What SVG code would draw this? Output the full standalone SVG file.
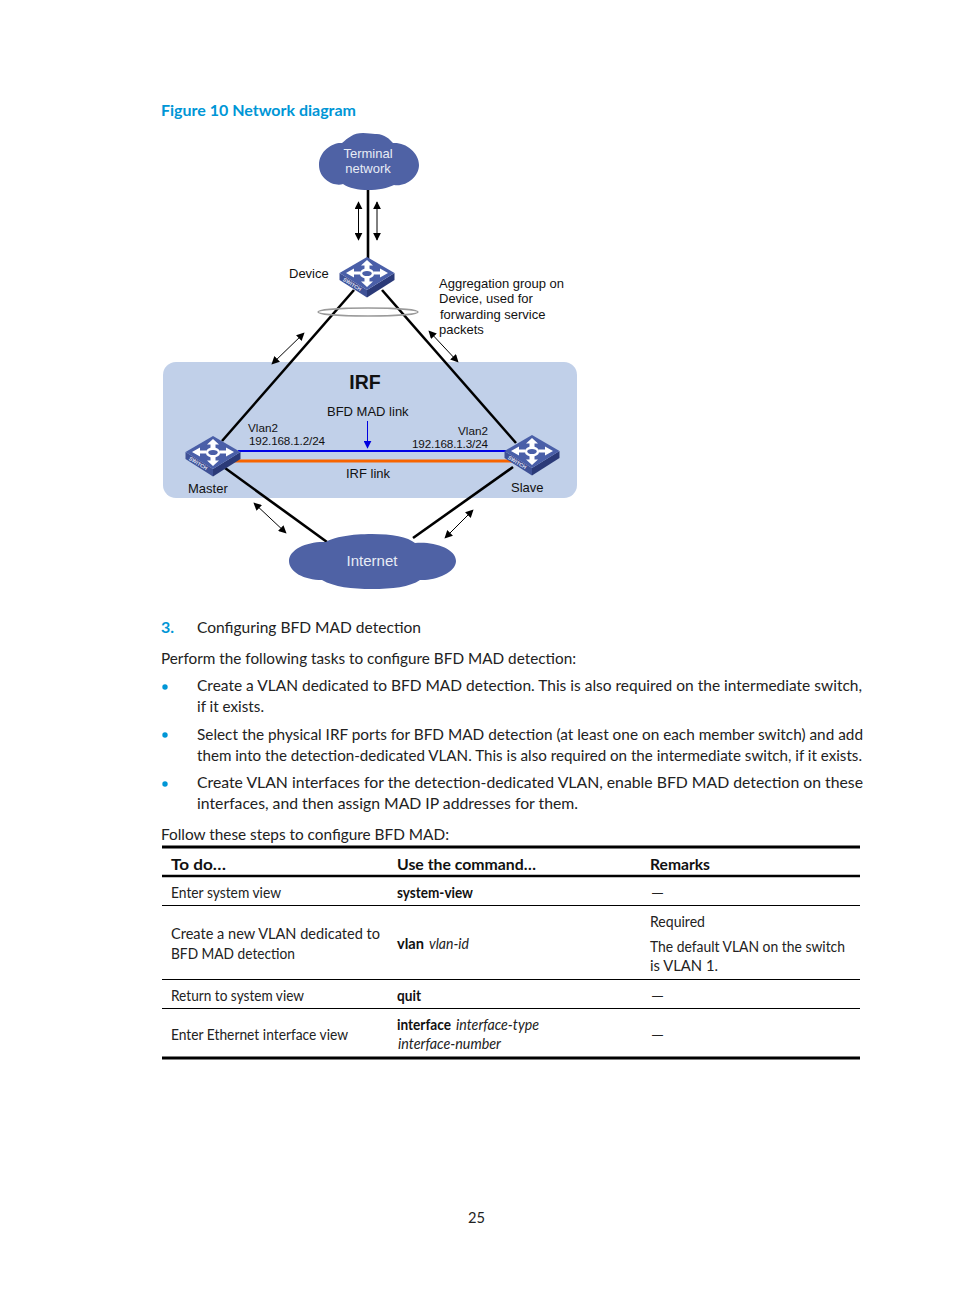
<svg xmlns="http://www.w3.org/2000/svg" width="954" height="1296" viewBox="0 0 954 1296">
<style>
.a{font-family:"Liberation Sans",Arial,sans-serif;font-size:13px;fill:#111}
.s{font-size:11.700px}
.w{font-family:"Liberation Sans",Arial,sans-serif;fill:#e8ecf6;text-anchor:middle}
.b{font-family:Lato,"Open Sans",sans-serif;font-size:16px;fill:#222}
.t{font-family:Lato,"Open Sans",sans-serif;font-size:14.5px;fill:#222}
.h{font-family:Lato,"Open Sans",sans-serif;font-size:16px;font-weight:700;fill:#111}
.m{font-weight:700;fill:#111}
.i{font-style:italic}
.bl{fill:#0096d6}
.cloud{fill:#4f62a5}
.lk{stroke:#000;stroke-width:2.600;fill:none}
.ar{stroke:#000;stroke-width:1;fill:none;marker-start:url(#ah);marker-end:url(#ah)}
.ln{stroke:#000;fill:none}
</style>
<defs>
<marker id="ah" viewBox="0 0 10 10" refX="9" refY="5" markerWidth="8.500" markerHeight="8" markerUnits="userSpaceOnUse" orient="auto-start-reverse"><path d="M0 0L10 5L0 10Z" fill="#000"/></marker>
<marker id="ab" viewBox="0 0 10 10" refX="9" refY="5" markerWidth="8" markerHeight="8" markerUnits="userSpaceOnUse" orient="auto"><path d="M0 0L10 5L0 10Z" fill="#0000e0"/></marker>
<g id="sw">
<path d="M-27.500 0L0 17V24.500L-27.500 7Z" fill="#3f5196"/>
<path d="M0 17L27.500 0V7L0 24.500Z" fill="#2b3a78"/>
<path d="M0 -16L27.500 0L0 17L-27.500 0Z" fill="#4a5fa8"/>
<g fill="#fff">
<path d="M0 -13L6 -7.500H2.500V-4H-2.500V-7.500H-6Z"/>
<path d="M0 14L6 8.500H2.500V5H-2.500V8.500H-6Z"/>
<path d="M-21 0L-13 -4.500V-1.500H-7V1.500H-13V4.500Z"/>
<path d="M21 0L13 -4.500V-1.500H7V1.500H13V4.500Z"/>
</g>
<ellipse cx="0" cy="0.500" rx="6" ry="3.800" fill="none" stroke="#fff" stroke-width="2.400"/>
<text transform="translate(-24.500 7.500) rotate(32)" font-family="Liberation Sans,Arial,sans-serif" font-size="5.200" font-weight="700" fill="#e4e8f4">SWITCH</text>
</g>
</defs>
<rect width="954" height="1296" fill="#fff"/>
<text class="h bl" x="161" y="116" textLength="195" lengthAdjust="spacingAndGlyphs">Figure 10 Network diagram</text>
<g id="irf-region"><rect x="163" y="362" width="414" height="136" rx="13" fill="#c1d0e9"/>
<text x="365" y="389" font-family="Liberation Sans,Arial,sans-serif" font-size="19.500" font-weight="700" fill="#111" text-anchor="middle">IRF</text></g>
<g id="connectors">
<path class="lk" d="M368 189V259"/>
<path class="lk" d="M354 290L222 441"/>
<path class="lk" d="M382 290L516 443"/>
<path class="lk" d="M225 468L327 542"/>
<path class="lk" d="M513 467L413 538"/>
<path d="M238 451H506" stroke="#0000e6" stroke-width="2" fill="none"/>
<path d="M234 461H512" stroke="#f76400" stroke-width="3.200" fill="none"/>
<path d="M367.500 421V448" stroke="#0000e0" stroke-width="1" fill="none" marker-end="url(#ab)"/>
<path class="ar" d="M358.500 202V240"/>
<path class="ar" d="M377 202V240"/>
<path class="ar" d="M272 364L304 333"/>
<path class="ar" d="M429 331L458 362"/>
<path class="ar" d="M254 503L286 533"/>
<path class="ar" d="M473 510L445 538"/>
<ellipse cx="368" cy="312" rx="50" ry="4" fill="none" stroke="#9a9a9a" stroke-width="1.500"/>
</g>
<g id="terminal-network">
<path class="cloud" d="M343 184C335 187 319 180 319 165C319 150 334 142 342 143C348 138 353 133 363 133C368 133 372 134 375 134C383 133 390 139 393 143C405 142 419 152 419 165C419 177 406 187 394 185C388 188 378 190 368 190C358 190 349 188 343 184Z"/>
<text class="w" x="368" y="158" font-size="13">Terminal</text>
<text class="w" x="368" y="173" font-size="13">network</text>
</g>
<g id="internet">
<path class="cloud" d="M326 542C333 537 352 534 372 534C392 534 408 537 415 543C432 541 456 548 456 561C456 573 434 581 420 580C410 587 392 589 372 589C352 589 334 587 322 580C304 580 289 572 289 561C289 549 308 541 326 542Z"/>
<text class="w" x="372" y="566" font-size="15">Internet</text>
</g>
<g id="device"><use href="#sw" x="367" y="273"/><text class="a" x="289" y="278">Device</text></g>
<g id="master"><use href="#sw" x="213" y="452"/><text class="a" x="188" y="493">Master</text></g>
<g id="slave"><use href="#sw" x="532" y="451"/><text class="a" x="511" y="492">Slave</text></g>
<g id="labels">
<text class="a" x="439" y="288">Aggregation group on</text>
<text class="a" x="439" y="303">Device, used for</text>
<text class="a" x="440" y="319">forwarding service</text>
<text class="a" x="439" y="334">packets</text>
<text class="a" x="327" y="416">BFD MAD link</text>
<text class="a s" x="248" y="432">Vlan2</text>
<text class="a s" x="249" y="445" textLength="76">192.168.1.2/24</text>
<text class="a s" x="458" y="435">Vlan2</text>
<text class="a s" x="412" y="448" textLength="76">192.168.1.3/24</text>
<text class="a" x="346" y="478">IRF link</text>
</g>
<g id="body">
<text class="b bl" x="161" y="633" font-weight="700">3.</text>
<text class="b" x="197" y="633" textLength="224" lengthAdjust="spacingAndGlyphs">Configuring BFD MAD detection</text>
<text class="b" x="161" y="664" textLength="415" lengthAdjust="spacingAndGlyphs">Perform the following tasks to configure BFD MAD detection:</text>
<circle class="bl" cx="165" cy="687" r="2.700"/>
<text class="b" x="197" y="691" textLength="665" lengthAdjust="spacingAndGlyphs">Create a VLAN dedicated to BFD MAD detection. This is also required on the intermediate switch,</text>
<text class="b" x="197" y="712" textLength="67" lengthAdjust="spacingAndGlyphs">if it exists.</text>
<circle class="bl" cx="165" cy="735" r="2.700"/>
<text class="b" x="197" y="740" textLength="666" lengthAdjust="spacingAndGlyphs">Select the physical IRF ports for BFD MAD detection (at least one on each member switch) and add</text>
<text class="b" x="197" y="761" textLength="665" lengthAdjust="spacingAndGlyphs">them into the detection-dedicated VLAN. This is also required on the intermediate switch, if it exists.</text>
<circle class="bl" cx="165" cy="784" r="2.700"/>
<text class="b" x="197" y="788" textLength="666" lengthAdjust="spacingAndGlyphs">Create VLAN interfaces for the detection-dedicated VLAN, enable BFD MAD detection on these</text>
<text class="b" x="197" y="809" textLength="381" lengthAdjust="spacingAndGlyphs">interfaces, and then assign MAD IP addresses for them.</text>
<text class="b" x="161" y="840" textLength="288" lengthAdjust="spacingAndGlyphs">Follow these steps to configure BFD MAD:</text>
</g>
<g id="table">
<path class="ln" stroke-width="3" d="M162 847H860M162 1058H860"/>
<path class="ln" stroke-width="2.500" d="M162 876H860"/>
<path class="ln" stroke-width="1" d="M162 905.500H860M162 979.500H860M162 1008.500H860"/>
<text class="h" x="171" y="870" textLength="55" lengthAdjust="spacingAndGlyphs">To do…</text>
<text class="h" x="397" y="870" textLength="139" lengthAdjust="spacingAndGlyphs">Use the command…</text>
<text class="h" x="650" y="870" textLength="60" lengthAdjust="spacingAndGlyphs">Remarks</text>
<text class="t" x="171" y="898" textLength="110" lengthAdjust="spacingAndGlyphs">Enter system view</text>
<text class="t m" x="397" y="898" textLength="76" lengthAdjust="spacingAndGlyphs">system-view</text>
<text class="t" x="651" y="898" textLength="13" lengthAdjust="spacingAndGlyphs">—</text>
<text class="t" x="171" y="939" textLength="209" lengthAdjust="spacingAndGlyphs">Create a new VLAN dedicated to</text>
<text class="t" x="171" y="959" textLength="124" lengthAdjust="spacingAndGlyphs">BFD MAD detection</text>
<text class="t m" x="397" y="949" textLength="27" lengthAdjust="spacingAndGlyphs">vlan</text>
<text class="t i" x="429" y="949" textLength="40" lengthAdjust="spacingAndGlyphs">vlan-id</text>
<text class="t" x="650" y="927" textLength="55" lengthAdjust="spacingAndGlyphs">Required</text>
<text class="t" x="650" y="952" textLength="195" lengthAdjust="spacingAndGlyphs">The default VLAN on the switch</text>
<text class="t" x="650" y="971" textLength="68" lengthAdjust="spacingAndGlyphs">is VLAN 1.</text>
<text class="t" x="171" y="1001" textLength="133" lengthAdjust="spacingAndGlyphs">Return to system view</text>
<text class="t m" x="397" y="1001" textLength="24" lengthAdjust="spacingAndGlyphs">quit</text>
<text class="t" x="651" y="1001" textLength="13" lengthAdjust="spacingAndGlyphs">—</text>
<text class="t" x="171" y="1040" textLength="177" lengthAdjust="spacingAndGlyphs">Enter Ethernet interface view</text>
<text class="t m" x="397" y="1030" textLength="54" lengthAdjust="spacingAndGlyphs">interface</text>
<text class="t i" x="456" y="1030" textLength="83" lengthAdjust="spacingAndGlyphs">interface-type</text>
<text class="t i" x="398" y="1049" textLength="103" lengthAdjust="spacingAndGlyphs">interface-number</text>
<text class="t" x="651" y="1040" textLength="13" lengthAdjust="spacingAndGlyphs">—</text>
</g>
<text class="b" x="468" y="1223" textLength="17" lengthAdjust="spacingAndGlyphs">25</text>
</svg>
